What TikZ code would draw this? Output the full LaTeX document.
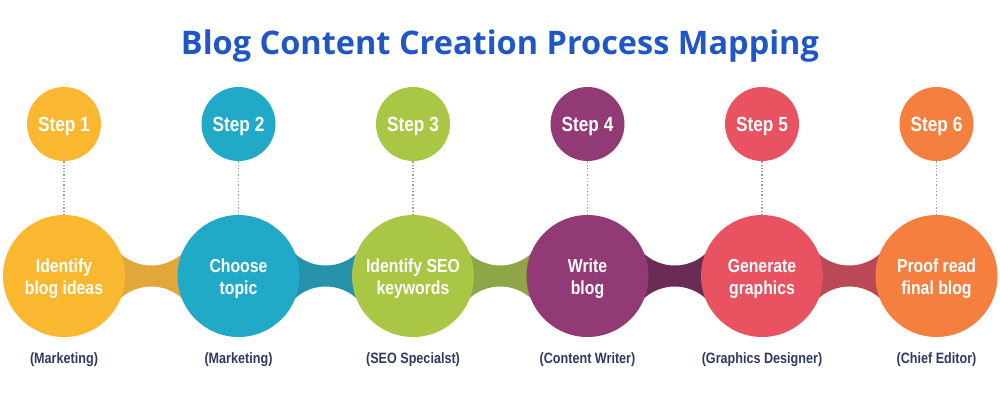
\documentclass[tikz,border=0pt]{standalone}
\usepackage{fontspec}
\newfontfamily\condf[FakeStretch=0.84]{Liberation Sans}
\newfontfamily\titlef{Open Sans}
\definecolor{cA}{HTML}{F9B830}\definecolor{dA}{HTML}{E0A83B}
\definecolor{cB}{HTML}{21AAC8}\definecolor{dB}{HTML}{2591AA}
\definecolor{cC}{HTML}{A9C644}\definecolor{dC}{HTML}{8FA647}
\definecolor{cD}{HTML}{913A76}\definecolor{dD}{HTML}{6A2B55}
\definecolor{cE}{HTML}{E95260}\definecolor{dE}{HTML}{BA4955}
\definecolor{cF}{HTML}{F47F3F}
\definecolor{titleblue}{HTML}{2157C4}
\definecolor{labnavy}{HTML}{2F3A62}
\definecolor{dotgray}{HTML}{9A9A9A}
\tikzset{
  bigc/.style={circle,minimum size=122pt,inner sep=0pt,text=white,align=center,
    font=\condf\bfseries\fontsize{18.8}{22}\selectfont},
  bigtext/.style={text=white,align=center,
    font=\condf\bfseries\fontsize{18.8}{22}\selectfont},
  smallc/.style={circle,minimum size=74pt,inner sep=0pt},
  steptext/.style={text=white,font=\condf\bfseries\fontsize{20.5}{22}\selectfont},
  roletext/.style={text=labnavy,font=\condf\bfseries\fontsize{15}{18}\selectfont},
  dotline/.style={draw=dotgray,line width=1.3pt,dotted},
}
\begin{document}
\begin{tikzpicture}[x=1pt,y=-1pt]
\useasboundingbox (0,0) rectangle (1000,400);
\node[text=titleblue,font=\titlef\bfseries\fontsize{32.5}{38}\selectfont] (title) at (500,46) {Blog Content Creation Process Mapping};
% bands
\foreach \i/\d in {1/dA,2/dB,3/dC,4/dD,5/dE}{
  \pgfmathsetmacro{\xa}{64+174.5*(\i-1)}
  \pgfmathsetmacro{\xb}{\xa+174.5}
  \pgfmathsetmacro{\xm}{\xa+87.25}
  \begin{scope}
    \clip (\xa,236) rectangle (\xb,316);
    \fill[\d,even odd rule] (\xa-5,226) rectangle (\xb+5,326)
      (\xm,219.5) circle (46pt) (\xm,332.5) circle (46pt);
  \end{scope}
}
\foreach \i/\c/\txt/\lab in {
  1/cA/{Identify\\blog ideas}/{(Marketing)},
  2/cB/{Choose\\topic}/{(Marketing)},
  3/cC/{Identify SEO\\keywords}/{(SEO Specialst)},
  4/cD/{Write\\blog}/{(Content Writer)},
  5/cE/{Generate\\graphics}/{(Graphics Designer)},
  6/cF/{Proof read\\final blog}/{(Chief Editor)}}{
  \pgfmathsetmacro{\x}{64+174.5*(\i-1)}
  \node[bigc,fill=\c] (b\i) at (\x,276) {};
  \node[bigtext] (t\i) at (\x,279) {\txt};
  \node[smallc,fill=\c] (s\i) at (\x,124) {};
  \node[steptext] (st\i) at (\x,126) {Step \i};
  \draw[dotline] (s\i.south) -- (b\i.north);
  \node[roletext] (l\i) at (\x,360) {\lab};
}
\end{tikzpicture}
\end{document}
